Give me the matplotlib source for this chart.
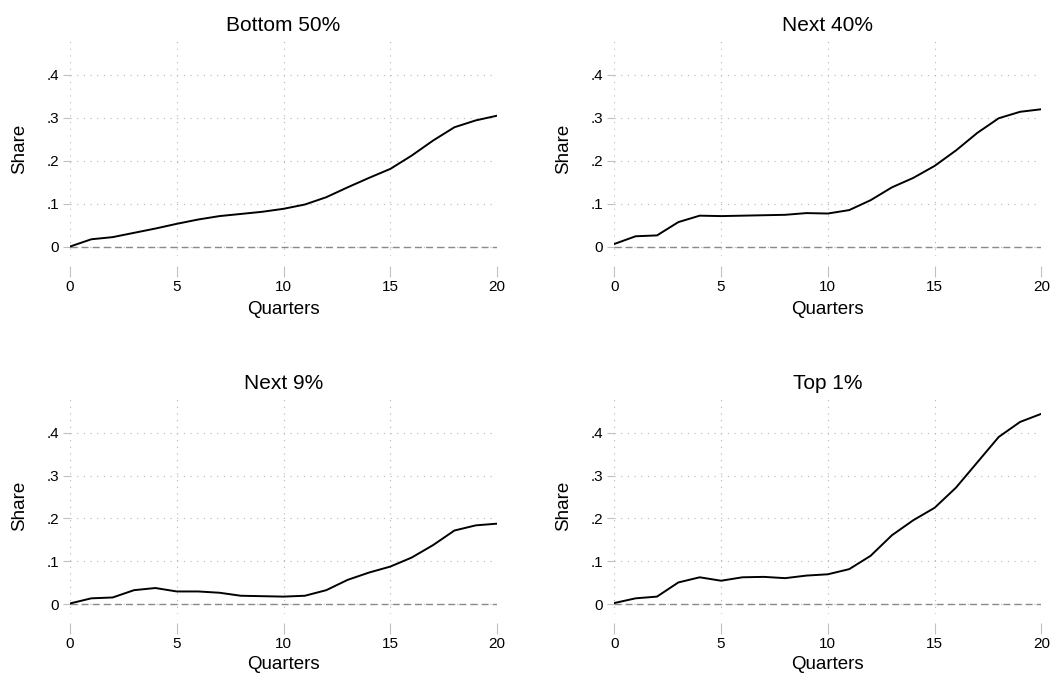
import numpy as np
import matplotlib
matplotlib.use('Agg')
from matplotlib import pyplot as plt

plt.rcParams['font.family'] = ['Liberation Sans', 'DejaVu Sans']

# Data.
quarters = list(range(0, 21))
titles = ['Bottom 50%', 'Next 40%', 'Next 9%', 'Top 1%']
bottom50 = [0.000, 0.017, 0.022, 0.032, 0.042, 0.053, 0.063, 0.071, 0.076, 0.081, 0.088,
            0.098, 0.115, 0.138, 0.160, 0.181, 0.212, 0.247, 0.278, 0.294, 0.305]
next40 = [0.006, 0.024, 0.026, 0.057, 0.072, 0.071, 0.072, 0.073, 0.074, 0.078, 0.077,
          0.085, 0.108, 0.138, 0.160, 0.188, 0.224, 0.265, 0.299, 0.314, 0.320]
next9 = [0.002, 0.014, 0.016, 0.033, 0.038, 0.030, 0.030, 0.027, 0.020, 0.019, 0.018,
         0.020, 0.033, 0.057, 0.074, 0.088, 0.109, 0.138, 0.172, 0.184, 0.188]
top1 = [0.003, 0.014, 0.018, 0.051, 0.063, 0.055, 0.063, 0.064, 0.061, 0.067, 0.070,
        0.082, 0.113, 0.161, 0.196, 0.225, 0.272, 0.331, 0.390, 0.425, 0.444]
series = [bottom50, next40, next9, top1]
yticks = [0, 0.1, 0.2, 0.3, 0.4]
yticklabels = ['0', '.1', '.2', '.3', '.4']
xticks = [0, 5, 10, 15, 20]

fig = plt.figure(figsize=(10.6, 6.73), dpi=100)

# axes positions (left, bottom, width, height)
positions = [(0.066, 0.6196, 0.403, 0.3195),
             (0.5795, 0.6196, 0.403, 0.3195),
             (0.066, 0.088, 0.403, 0.3195),
             (0.5795, 0.088, 0.403, 0.3195)]

for i, (pos, title, vals) in enumerate(zip(positions, titles, series)):
    ax = fig.add_axes(pos)
    ax.plot(quarters, vals, color='black', lw=1.4, zorder=3)
    ax.axhline(0, color='#8a8a8a', lw=1.0, linestyle=(0, (5, 3)), zorder=2)
    ax.set_xlim(0, 20)
    ax.set_ylim(-0.022, 0.479)
    ax.set_xticks(xticks)
    ax.set_yticks(yticks)
    ax.set_yticklabels(yticklabels)
    ax.grid(True, color='#b5b5b5', lw=0.8, linestyle=(0, (1, 5)))
    for s in ax.spines.values():
        s.set_visible(False)
    ax.spines['bottom'].set_position(('outward', 7))
    ax.tick_params(axis='x', length=8, color='#c0c0c0', labelsize=11, pad=2)
    ax.tick_params(axis='y', length=5, color='#c0c0c0', labelsize=11, pad=3)
    ax.set_title(title, fontsize=15, pad=7)
    ax.set_xlabel('Quarters', fontsize=13.5, labelpad=5 if i < 2 else 3)
    ax.set_ylabel('Share', fontsize=13.5, labelpad=13)

fig.savefig('out.png', dpi=100)
